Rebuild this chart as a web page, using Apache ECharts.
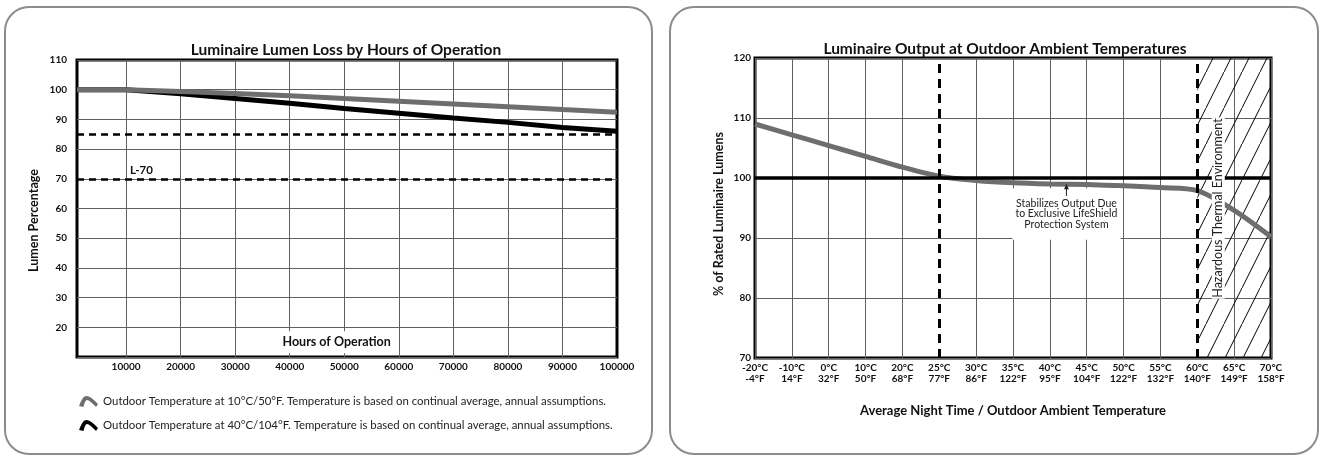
<!DOCTYPE html>
<html><head><meta charset="utf-8">
<script src="https://cdn.jsdelivr.net/npm/echarts@6/dist/echarts.min.js"></script>
<style>html,body{margin:0;padding:0;background:#fff}#c{width:1321px;height:457px}</style>
</head><body><div id="c"></div>
<script>
// ---------- Left chart data ----------
const hours      = [1000, 10000, 20000, 30000, 40000, 50000, 60000, 70000, 80000, 90000, 100000];
const lumens10C  = [100, 100, 99.4, 98.7, 98.0, 97.0, 96.1, 95.2, 94.3, 93.3, 92.4];
const lumens40C  = [100, 100, 98.6, 97.0, 95.4, 93.7, 92.1, 90.5, 89.0, 87.3, 86.0];
const hourGridTicks = [10000, 20000, 30000, 40000, 50000, 60000, 70000, 80000, 90000];
const hourLabels    = [10000, 20000, 30000, 40000, 50000, 60000, 70000, 80000, 90000, 100000];
const refLevels  = [85, 70];
const refLabel   = 'L-70';
const name10C = 'Outdoor Temperature at 10°C/50°F. Temperature is based on continual average, annual assumptions.';
const name40C = 'Outdoor Temperature at 40°C/104°F. Temperature is based on continual average, annual assumptions.';

// ---------- Right chart data ----------
const tempC = ['-20°C','-10°C','0°C','10°C','20°C','25°C','30°C','35°C','40°C','45°C','50°C','55°C','60°C','65°C','70°C'];
const tempF = ['-4°F','14°F','32°F','50°F','68°F','77°F','86°F','122°F','95°F','104°F','122°F','132°F','140°F','149°F','158°F'];
const outputPct = [109.0, 107.2, 105.4, 103.6, 101.8, 100.3, 99.6, 99.2, 99.0, 98.9, 98.7, 98.4, 97.9, 94.6, 90.2];
const ratedLevel = 100;
const dashedTemps = ['25°C', '60°C'];
const hazardFrom = '60°C', hazardTo = '70°C';

const FONT = 'Lato, "Open Sans", sans-serif';
const GRAY = '#6e6e6e';
const GRID = '#606060';

const chart = echarts.init(document.getElementById('c'), null, {renderer: 'canvas'});

// hatch pattern
const pat = document.createElement('canvas');
pat.width = 18; pat.height = 36;
const pc = pat.getContext('2d');
pc.strokeStyle = '#000'; pc.lineWidth = 1;
pc.beginPath(); pc.moveTo(-1, 38); pc.lineTo(19, -2); pc.stroke();

const dashedIdx = dashedTemps.map(t => tempC.indexOf(t));
const splitColors = tempC.map((t, i) => dashedIdx.includes(i) ? 'rgba(0,0,0,0)' : GRID);

const legendIcon = 'path://M0,11 C2,6 4,1 7.5,1 C11,1 15,5 19,9 L17,12 C13,8 10,5 8,5 C6.5,5 5.5,8 4.5,12 Z';

const lbl = {fontFamily: FONT, fontWeight: 'bold', fontSize: 10, color: '#111'};
const nameStyle = {fontFamily: FONT, fontWeight: 'bold', fontSize: 12.5, color: '#111'};

chart.setOption({
  animation: false,
  title: [
    {text: 'Luminaire Lumen Loss by Hours of Operation', left: 341, top: 37, textAlign: 'center',
     textStyle: {fontFamily: FONT, fontWeight: 'bold', fontSize: 15.5, color: '#111'}},
    {text: 'Luminaire Output at Outdoor Ambient Temperatures', left: 1000, top: 36, textAlign: 'center',
     textStyle: {fontFamily: FONT, fontWeight: 'bold', fontSize: 15.5, color: '#111'}}
  ],
  legend: {
    data: [name10C, name40C], orient: 'vertical', left: 74, top: 391, itemGap: 13,
    itemWidth: 19, itemHeight: 12, icon: legendIcon, selectedMode: false,
    textStyle: {fontFamily: FONT, fontSize: 11.4, color: '#222'}
  },
  grid: [
    {left: 77, top: 60, width: 540, height: 297, show: true, borderColor: '#000', borderWidth: 3, backgroundColor: 'transparent'},
    {left: 755, top: 58, width: 516, height: 300, show: true, borderColor: '#000', borderWidth: 3, backgroundColor: 'transparent'}
  ],
  xAxis: [
    {type: 'value', gridIndex: 0, min: hours[0], max: hours[hours.length - 1],
     axisLine: {show: false},
     axisTick: {show: false, customValues: hourGridTicks},
     axisLabel: {customValues: hourLabels, margin: 5, formatter: v => String(v), ...lbl},
     splitLine: {show: true, lineStyle: {color: GRID, width: 1}}},
    {type: 'value', gridIndex: 1, min: 0, max: tempC.length - 1, interval: 1,
     axisLine: {show: false}, axisTick: {show: false},
     axisLabel: {margin: 5, formatter: v => tempC[v] + '\n' + tempF[v], lineHeight: 10.5, ...lbl},
     splitLine: {show: true, lineStyle: {color: splitColors, width: 1}},
     name: 'Average Night Time / Outdoor Ambient Temperature', nameLocation: 'middle', nameGap: 46,
     nameTextStyle: {...nameStyle, fontSize: 13}}
  ],
  yAxis: [
    {type: 'value', gridIndex: 0, min: 10, max: 110, interval: 10,
     axisLine: {show: false}, axisTick: {show: false},
     axisLabel: {margin: 10, formatter: v => v === 10 ? '' : String(v), ...lbl},
     splitLine: {show: true, lineStyle: {color: GRID, width: 1}},
     name: 'Lumen Percentage', nameLocation: 'middle', nameGap: 37,
     nameTextStyle: {...nameStyle, padding: [0, 24, 0, 0]}},
    {type: 'value', gridIndex: 1, min: 70, max: 120, interval: 10,
     axisLine: {show: false}, axisTick: {show: false},
     axisLabel: {margin: 4, ...lbl},
     splitLine: {show: true, lineStyle: {color: GRID, width: 1}},
     name: '% of Rated Luminaire Lumens', nameLocation: 'middle', nameGap: 30,
     nameTextStyle: {...nameStyle, padding: [0, 12, 0, 0]}}
  ],
  series: [
    {type: 'line', name: name40C, xAxisIndex: 0, yAxisIndex: 0, z: 3,
     data: hours.map((h, i) => [h, lumens40C[i]]), showSymbol: false, symbol: 'none',
     color: '#000', lineStyle: {color: '#000', width: 5},
     markLine: {silent: true, symbol: 'none', label: {show: false},
       lineStyle: {color: '#000', type: [7, 5], width: 2.5},
       data: refLevels.map(v => ({yAxis: v}))},
     markPoint: {silent: true, symbol: 'circle', symbolSize: 0,
       data: [{coord: [hourGridTicks[0], refLevels[1]]}],
       label: {show: true, formatter: refLabel, position: 'right', distance: 4, offset: [0, -9],
         fontFamily: FONT, fontWeight: 'bold', fontSize: 11.5, color: '#111'}}},
    {type: 'line', name: name10C, xAxisIndex: 0, yAxisIndex: 0, z: 4,
     data: hours.map((h, i) => [h, lumens10C[i]]), showSymbol: false, symbol: 'none',
     color: GRAY, lineStyle: {color: GRAY, width: 5}},
    {type: 'line', name: 'output', xAxisIndex: 1, yAxisIndex: 1, z: 4,
     data: outputPct.map((v, i) => [i, v]), showSymbol: false, symbol: 'none', smooth: 0.3,
     color: GRAY, lineStyle: {color: GRAY, width: 5},
     markArea: {silent: true, itemStyle: {color: {image: pat, repeat: 'repeat'}},
       data: [[{xAxis: tempC.indexOf(hazardFrom)}, {xAxis: tempC.indexOf(hazardTo)}]]},
     markLine: {silent: true, symbol: 'none', label: {show: false},
       data: [
         {yAxis: ratedLevel, lineStyle: {color: '#000', type: 'solid', width: 3.5}},
         ...dashedIdx.map(i => ({xAxis: i, lineStyle: {color: '#000', type: [9, 6], width: 3}}))
       ]}}
  ]
});

// annotations anchored in data coordinates
const p = (g, c) => chart.convertToPixel({gridIndex: g}, c);
const hoursPos = p(0, [48600, 15]);
const notePos  = p(1, [8.45, 94]);
const arrowA   = p(1, [8.45, 97.0]);
const arrowB   = p(1, [8.45, 98.95]);
const hazPos   = p(1, [12.57, 95]);

chart.setOption({
  graphic: [
    {type: 'rect', z: 0, shape: {x: 5, y: 7, width: 647, height: 447, r: 24},
     style: {fill: 'none', stroke: '#8c8c8c', lineWidth: 2}},
    {type: 'rect', z: 0, shape: {x: 670, y: 7, width: 648, height: 447, r: 24},
     style: {fill: 'none', stroke: '#8c8c8c', lineWidth: 2}},
    {type: 'text', z: 100, x: hoursPos[0], y: hoursPos[1],
     style: {text: 'Hours of Operation', align: 'center', verticalAlign: 'middle',
       font: 'bold 12.5px ' + FONT, fill: '#111', backgroundColor: '#fff', padding: [5, 4, 4, 4]}},
    {type: 'text', z: 100, x: notePos[0], y: notePos[1],
     style: {text: 'Stabilizes Output Due\nto Exclusive LifeShield\nProtection System', align: 'center', verticalAlign: 'middle',
       font: '10.5px ' + FONT, lineHeight: 10.5, fill: '#222', backgroundColor: '#fff', padding: [12, 3, 8, 3]}},
    {type: 'line', z: 101, shape: {x1: arrowA[0], y1: arrowA[1], x2: arrowB[0], y2: arrowB[1]},
     style: {stroke: '#222', lineWidth: 1}},
    {type: 'polygon', z: 101, shape: {points: [[arrowB[0] - 2.5, arrowB[1] + 5], [arrowB[0] + 2.5, arrowB[1] + 5], [arrowB[0], arrowB[1]]]},
     style: {fill: '#222'}},
    {type: 'text', z: 100, x: hazPos[0], y: hazPos[1], rotation: Math.PI / 2,
     style: {text: 'Hazardous Thermal Environment', align: 'center', verticalAlign: 'middle',
       font: '12.5px ' + FONT, fill: '#222', backgroundColor: '#fff', padding: [0, 1]}}
  ]
});
</script></body></html>
